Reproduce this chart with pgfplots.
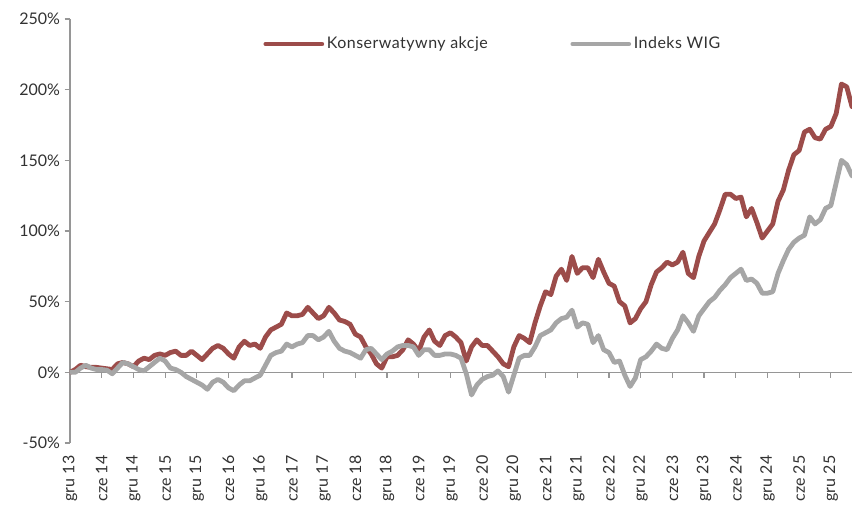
\documentclass[border=0pt]{standalone}
\usepackage{pgfplots}
\pgfplotsset{compat=1.18}
\usepackage{pgfplotstable}
\usepackage{fontspec}
\setmainfont{Lato}
\newfontfamily\legfont[LetterSpace=3]{Lato}
\definecolor{kons}{RGB}{156,76,74}
\definecolor{wig}{RGB}{166,166,166}
\definecolor{axgray}{RGB}{150,150,150}
\definecolor{txt}{RGB}{50,50,50}

\pgfplotstableread{
m kons wig
0 0 0
1 2 0
2 5 3
3 4 5
4 3.5 3
5 3.5 2
6 3 2
7 2.5 1.5
8 2 -1
9 6 3
10 7 7
11 6 6
12 4 4
13 8 2
14 10 1
15 9 4
16 12 7
17 13 10
18 12 8
19 14 3
20 15 2
21 12 0
22 12 -3
23 15 -5
24 12 -7
25 9 -9
26 13 -12
27 17 -7
28 19 -5
29 17 -7
30 13 -11
31 10 -13
32 18 -9
33 22 -6
34 19 -6
35 20 -4
36 17 -2
37 25 5
38 30 12
39 32 14
40 34 15
41 42 20
42 40 18
43 40 20
44 41 21
45 46 26
46 42 26
47 38 23
48 40 25
49 46 29
50 42 22
51 37 17
52 36 15
53 34 14
54 27 12
55 25 10
56 18 16
57 13 17
58 6 13
59 3 9
60 11 13
61 11 15
62 12 18
63 16 19
64 23 19
65 20 18
66 15 12
67 25 16
68 30 16
69 22 12
70 19 12
71 26 13
72 28 13
73 25 12
74 21 10
75 8 -1
76 18 -16
77 23 -9
78 19 -5
79 19 -3
80 15 -2
81 11 1
82 6 -3
83 4 -14
84 18 -2
85 26 10
86 24 12
87 21 12
88 35 18
89 47 26
90 57 28
91 55 30
92 68 35
93 73 38
94 65 39
95 82 44
96 70 32
97 74 35
98 74 34
99 67 21
100 80 26
101 71 16
102 63 14
103 61 7
104 50 8
105 47 -2
106 35 -10
107 38 -4
108 45 9
109 50 11
110 62 15
111 71 20
112 74 17
113 78 16
114 76 24
115 78 30
116 85 40
117 70 35
118 67 29
119 82 40
120 93 45
121 99 50
122 105 53
123 115 58
124 126 62
125 126 67
126 123 70
127 124 73
128 110 65
129 116 66
130 106 63
131 95 56
132 100 56
133 105 57
134 121 70
135 129 79
136 143 87
137 154 92
138 157 95
139 170 97
140 172 110
141 166 105
142 165 108
143 172 116
144 174 118
145 183 134
146 204 150
147 202 147
148 188 139
}\datatable

\begin{document}
\begin{tikzpicture}
\begin{axis}[
  scale only axis,
  width=586.5pt, height=318pt,
  xmin=0, xmax=148, ymin=-50, ymax=250,
  axis y line=left,
  axis x line=middle,
  axis line style={-, draw=axgray, line width=0.9pt},
  hide obscured x ticks=false,
  hide obscured y ticks=false,
  tick align=outside,
  major tick length=4pt,
  tick style={draw=axgray, line width=0.9pt},
  ytick={-50,0,50,100,150,200,250},
  yticklabels={-50\%,0\%,50\%,100\%,150\%,200\%,250\%},
  xtick={0,6,...,144},
  xticklabels={gru 13,cze 14,gru 14,cze 15,gru 15,cze 16,gru 16,cze 17,gru 17,cze 18,gru 18,cze 19,gru 19,cze 20,gru 20,cze 21,gru 21,cze 22,gru 22,cze 23,gru 23,cze 24,gru 24,cze 25,gru 25},
  yticklabel style={font=\fontsize{12}{14}\selectfont, text=txt},
  xticklabel style={font=\fontsize{12}{14}\selectfont, text=txt, yshift=-55pt, rotate=90, anchor=east},
  legend columns=2,
  legend style={at={(0.247,0.941)}, anchor=west, draw=none, fill=none, inner sep=0pt,
    font=\fontsize{12}{14}\selectfont\legfont, text=txt,
    /tikz/every even column/.append style={column sep=60pt}},
  legend image code/.code={\draw[#1, line cap=round] (0pt,0pt) -- (42pt,0pt);},
]
\addplot[kons, line width=3.6pt, line join=round, line cap=round] table[x=m, y=kons] {\datatable};
\addlegendentry{Konserwatywny akcje}
\addplot[wig, line width=3.6pt, line join=round, line cap=round] table[x=m, y=wig] {\datatable};
\addlegendentry{Indeks WIG}
\end{axis}
\pgfresetboundingbox
\path (-52.5pt,-47.25pt) rectangle (586.5pt,332.25pt);
\end{tikzpicture}
\end{document}
